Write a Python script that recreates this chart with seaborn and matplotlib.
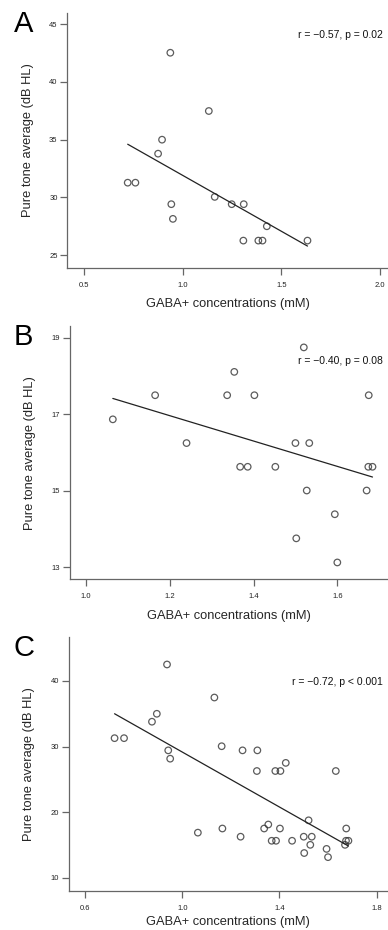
import numpy as np
import pandas as pd
import matplotlib
matplotlib.use("Agg")
import matplotlib.pyplot as plt
import seaborn as sns

# --------------------------------
# DATA
# --------------------------------

gaba_a = [0.721, 0.760, 0.875, 0.895, 0.937, 0.942, 0.950, 1.132,
          1.162, 1.248, 1.309, 1.307, 1.383, 1.404, 1.426, 1.632]
pta_a = [31.28, 31.28, 33.79, 35.00, 42.52, 29.42, 28.15, 37.48,
         30.05, 29.42, 29.42, 26.27, 26.27, 26.27, 27.51, 26.27]

gaba_b = [1.064, 1.165, 1.240, 1.337, 1.354, 1.368, 1.386, 1.402, 1.452, 1.500,
          1.502, 1.520, 1.527, 1.533, 1.594, 1.600, 1.670, 1.675, 1.674, 1.684]
pta_b = [16.87, 17.50, 16.25, 17.50, 18.11, 15.63, 15.63, 17.50, 15.63, 16.25,
         13.76, 18.75, 15.01, 16.25, 14.39, 13.13, 15.01, 17.50, 15.63, 15.63]

# panel C pools both groups
gaba_c = gaba_a + gaba_b
pta_c = pta_a + pta_b

stats_text = ["r = \u22120.57, p = 0.02",
              "r = \u22120.40, p = 0.08",
              "r = \u22120.72, p < 0.001"]
panel_labels = ["A", "B", "C"]

x_ticks = [[0.5, 1.0, 1.5, 2.0], [1.0, 1.2, 1.4, 1.6], [0.6, 1.0, 1.4, 1.8]]
y_ticks = [[25, 30, 35, 40, 45], [13, 15, 17, 19], [10, 20, 30, 40]]
x_limits = [(0.415, 2.04), (0.961, 1.721), (0.532, 1.847)]
y_limits = [(23.93, 45.98), (12.69, 19.31), (8.02, 46.76)]

# --------------------------------
# FIGURE
# --------------------------------

sns.set_style("white")
plt.rcParams["font.family"] = ["Liberation Sans", "DejaVu Sans"]

fig = plt.figure(figsize=(3.88, 9.30), dpi=100)

ax_rects = [
    [0.1735, 0.7122, 0.8265, 0.2741],
    [0.1796, 0.3771, 0.8204, 0.2724],
    [0.1770, 0.0423, 0.8230, 0.2731],
]

spine_col = "#666666"
datasets = [(gaba_a, pta_a), (gaba_b, pta_b), (gaba_c, pta_c)]
text_y = [0.913, 0.862, 0.823]
label_pads = [7, 7, 3]

for i, (gx, py) in enumerate(datasets):
    ax = fig.add_axes(ax_rects[i])
    df = pd.DataFrame({"gaba": gx, "pta": py})

    sns.regplot(
        data=df,
        x="gaba",
        y="pta",
        ci=None,
        ax=ax,
        scatter_kws=dict(s=22, facecolors="none", edgecolors="#333333",
                         linewidths=0.9),
        line_kws=dict(color="#222222", lw=0.9),
    )

    ax.set_xlim(*x_limits[i])
    ax.set_ylim(*y_limits[i])
    ax.set_xticks(x_ticks[i])
    ax.set_yticks(y_ticks[i])
    ax.set_xticklabels([f"{t:.1f}" for t in x_ticks[i]])
    ax.set_yticklabels([str(t) for t in y_ticks[i]])

    sns.despine(ax=ax)
    for side in ["left", "bottom"]:
        ax.spines[side].set_color(spine_col)
        ax.spines[side].set_linewidth(0.9)

    ax.tick_params(axis="both", direction="out", length=5, width=0.9,
                   color=spine_col, labelsize=5.5, labelcolor="#222222",
                   left=True, bottom=True)
    ax.tick_params(axis="x", pad=5)
    ax.tick_params(axis="y", pad=2)

    ax.set_xlabel("GABA+ concentrations (mM)", fontsize=9.3,
                  labelpad=label_pads[i])
    ax.set_ylabel("Pure tone average (dB HL)", fontsize=9.3, labelpad=11)

    ax.text(0.985, text_y[i], stats_text[i], transform=ax.transAxes,
            ha="right", va="center", fontsize=7.5, color="#111111")

    fig.text(0.036, ax_rects[i][1] + ax_rects[i][3] + 0.003, panel_labels[i],
             fontsize=21, ha="left", va="top", color="black")

fig.savefig("out.png", dpi=100)
